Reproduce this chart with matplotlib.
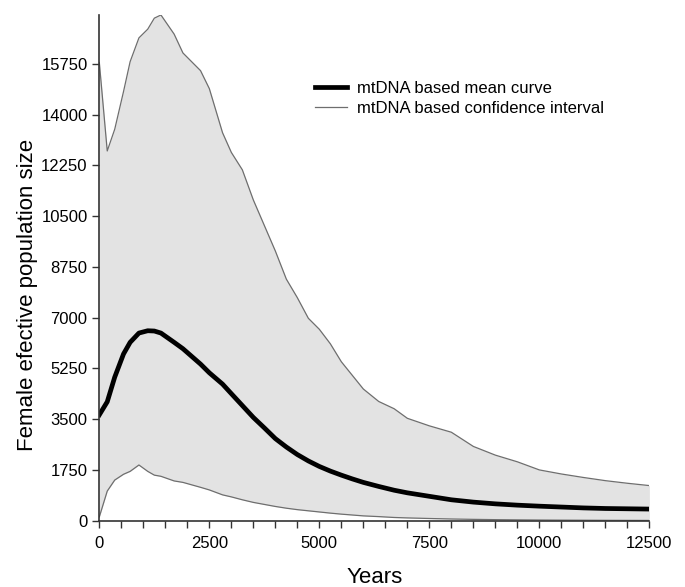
import matplotlib.pyplot as plt
from matplotlib.ticker import MultipleLocator

plt.rcParams['font.family'] = ['Liberation Sans', 'DejaVu Sans']

years = [0, 180, 350, 550, 700, 900, 1100, 1250, 1400, 1700, 1900, 2300, 2500,
         2800, 3000, 3250, 3500, 3750, 4000, 4250, 4500, 4750, 5000, 5250, 5500,
         5750, 6000, 6350, 6700, 7000, 7500, 8000, 8500, 9000, 9500, 10000,
         10500, 11000, 11500, 12000, 12500]

upper = [15800, 12750, 13500, 14800, 15830, 16650, 16950, 17330, 17440, 16780,
         16130, 15520, 14900, 13380, 12700, 12100, 11060, 10180, 9300, 8330,
         7690, 6980, 6600, 6100, 5480, 5010, 4540, 4110, 3860, 3530, 3270, 3050,
         2560, 2260, 2030, 1750, 1610, 1490, 1380, 1290, 1210]

mean = [3650, 4100, 4950, 5750, 6150, 6470, 6550, 6540, 6470, 6150, 5930, 5400,
        5100, 4710, 4380, 3970, 3560, 3200, 2830, 2540, 2280, 2060, 1870, 1710,
        1570, 1440, 1320, 1180, 1050, 960, 840, 720, 640, 580, 535, 500, 470,
        440, 420, 410, 400]

lower = [130, 1020, 1400, 1600, 1700, 1920, 1700, 1570, 1530, 1370, 1320, 1150,
         1060, 890, 820, 720, 630, 560, 490, 430, 380, 340, 300, 260, 225, 195,
         165, 140, 110, 95, 75, 58, 45, 35, 28, 22, 18, 15, 12, 10, 8]

yticks = [0, 1750, 3500, 5250, 7000, 8750, 10500, 12250, 14000, 15750]

fig = plt.figure(figsize=(6.85, 5.87), dpi=100)
ax = fig.add_axes([0.145, 0.113, 0.803, 0.8615])

ax.fill_between(years, lower, upper, color='#e3e3e3', lw=0)
ax.plot(years, upper, color='#6e6e6e', lw=0.9,
        label='mtDNA based confidence interval')
ax.plot(years, lower, color='#6e6e6e', lw=0.9)
ax.plot(years, mean, color='black', lw=3.4, label='mtDNA based mean curve')

ax.set_xlim(0, 12500)
ax.set_ylim(0, 17440)
ax.set_yticks(yticks)
ax.xaxis.set_major_locator(MultipleLocator(2500))
ax.xaxis.set_minor_locator(MultipleLocator(500))
ax.tick_params(axis='both', labelsize=12, length=5, width=1, color='#333333')
ax.tick_params(axis='x', which='minor', length=5, width=1, color='#333333')
ax.tick_params(axis='x', pad=6)

for side in ['top', 'right']:
    ax.spines[side].set_visible(False)
for side in ['left', 'bottom']:
    ax.spines[side].set_color('#333333')
    ax.spines[side].set_linewidth(1.2)

ax.set_xlabel('Years', fontsize=16)
ax.set_ylabel('Female efective population size', fontsize=16)
ax.xaxis.set_label_coords(0.5, -0.092)
ax.yaxis.set_label_coords(-0.112, 0.446)

handles, labels = ax.get_legend_handles_labels()
ax.legend(handles[::-1], labels[::-1], loc='upper left',
          bbox_to_anchor=(0.365, 0.9), frameon=False, fontsize=12,
          handlelength=1.9, handletextpad=0.6, labelspacing=0.3)

plt.savefig('out.png', dpi=100)
